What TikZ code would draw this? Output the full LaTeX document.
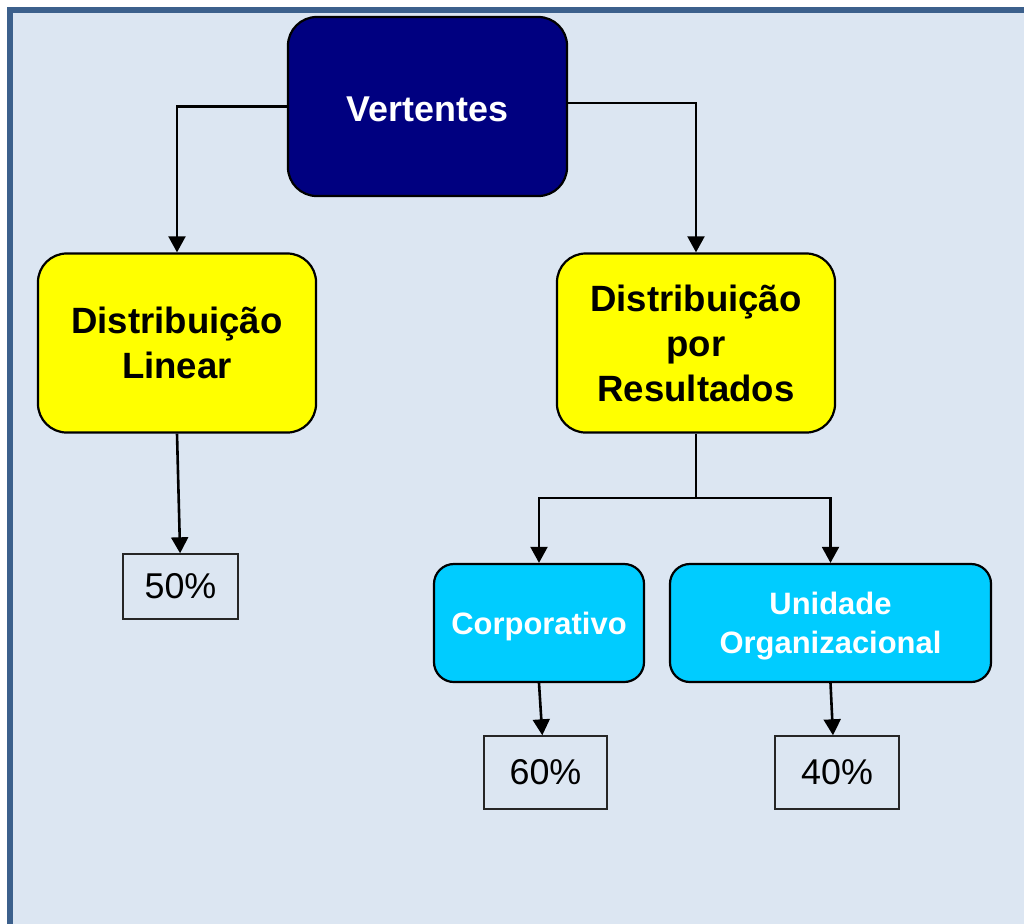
\documentclass[tikz,border=0pt]{standalone}
\usepackage{fontspec}
\setmainfont{Liberation Sans}
\usetikzlibrary{arrows.meta}

\definecolor{framebg}{RGB}{220,230,242}
\definecolor{frameline}{RGB}{60,96,140}
\definecolor{vertnavy}{RGB}{0,0,128}
\definecolor{yellowbox}{RGB}{255,255,0}
\definecolor{cyanbox}{RGB}{0,204,255}

\begin{document}
\begin{tikzpicture}[x=0.025cm, y=-0.025cm,
    box/.style={draw=black, line width=0.055cm, align=center, inner sep=0pt},
    bigbox/.style={box, rounded corners=0.72cm, minimum width=6.95cm, minimum height=4.475cm},
    smallbox/.style={box, fill=cyanbox, rounded corners=0.5cm, minimum height=2.95cm, text=white,
        text depth=0pt, font=\fontsize{22}{28}\selectfont\bfseries},
    pct/.style={draw=black!85, line width=0.035cm, inner sep=0pt, minimum height=1.825cm,
        font=\fontsize{25.5}{30}\selectfont},
    arr/.style={-{Triangle[length=0.4cm, width=0.42cm]}, line width=0.065cm}]

    % Page and frame
    \useasboundingbox (0,0) rectangle (1024,923);
    \fill[white] (0,0) rectangle (1024,923);
    \clip (0,0) rectangle (1024,923);
    \draw[frameline, fill=framebg, line width=0.15cm] (10,10) rectangle (1070,970);

    % Top box
    \node[bigbox, fill=vertnavy, text=white, minimum width=6.975cm, text height=22pt,
        font=\fontsize{25.5}{30}\selectfont\bfseries] (vert) at (427.5,106.5) {Vertentes};

    % The two branches
    \node[bigbox, fill=yellowbox, font=\fontsize{26}{31.5}\selectfont\bfseries] (lin) at (177,343)
        {Distribuição\\Linear};
    \node[bigbox, fill=yellowbox, font=\fontsize{26}{32}\selectfont\bfseries] (res) at (696,343)
        {Distribuição\\por\\Resultados};

    % Sub boxes of Resultados
    \node[smallbox, minimum width=5.25cm] (corp) at (539,623) {Corporativo};
    \node[smallbox, minimum width=8.025cm] (uni) at (830.5,623) {Unidade\\Organizacional};

    % Percentages
    \node[pct, minimum width=2.875cm, minimum height=1.625cm] (p50) at (180.5,586.5) {50\%};
    \node[pct, minimum width=3.075cm] (p60) at (545.5,772.5) {60\%};
    \node[pct, minimum width=3.1cm] (p40) at (837,772.5) {40\%};

    % Connectors from the top box
    \draw[arr] (vert.west) -| (lin.north);
    \draw[arr] ([yshift=0.09cm]vert.east) -| (res.north);

    % Fork under Resultados
    \coordinate (fork) at (696,498);
    \draw[line width=0.065cm] (res.south) -- (fork);
    \draw[arr] (fork) -| (corp.north);
    \draw[arr] (fork) -| (uni.north);

    % Arrows to the percentages
    \draw[arr] (lin.south) -- ([xshift=-0.01cm]p50.north);
    \draw[arr] (corp.south) -- ([xshift=-0.08cm]p60.north);
    \draw[arr] (uni.south) -- ([xshift=-0.1cm]p40.north);

\end{tikzpicture}
\end{document}
